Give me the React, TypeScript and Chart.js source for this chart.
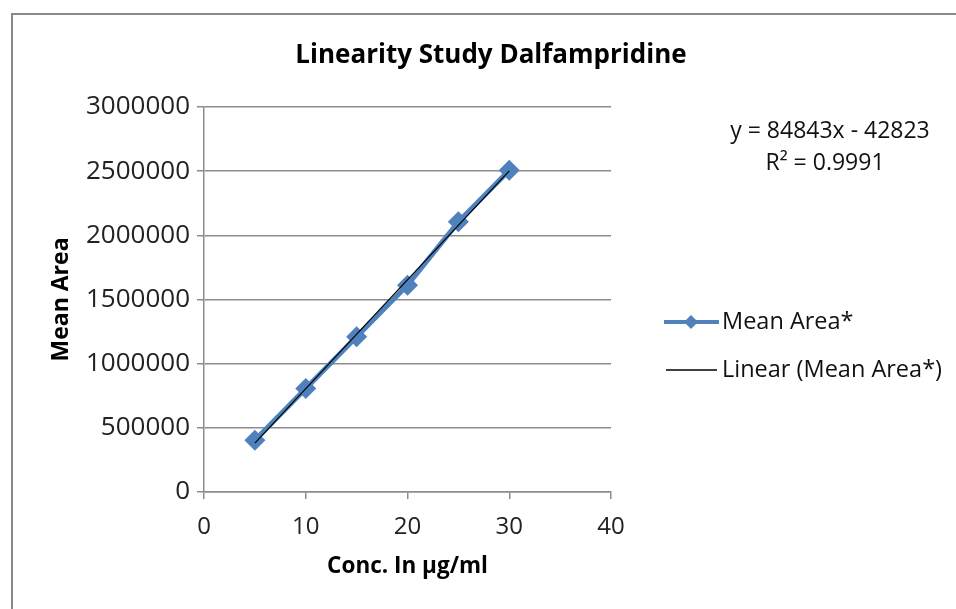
import React, { useEffect, useRef } from "react";
import { Chart, registerables } from "chart.js";

Chart.register(...registerables);

// ---- data ----
const concentrations = [5, 10, 15, 20, 25, 30];
const meanAreas = [404000, 807000, 1209000, 1612000, 2105000, 2508000];
const trendSlope = 84843;
const trendIntercept = -42823;
const rSquared = "0.9991";
const xMin = 0;
const xMax = 40;
const xStep = 10;
const yMin = 0;
const yMax = 3000000;
const yStep = 500000;
const chartTitle = "Linearity Study Dalfampridine";
const xTitle = "Conc. In µg/ml";
const yTitle = "Mean Area";
const seriesLabel = "Mean Area*";
const trendLabel = "Linear (Mean Area*)";

const FONT = "'Open Sans', 'DejaVu Sans', sans-serif";
const BLUE = "#4F81BD";
const GRID = "#8c8c8c";

const decorPlugin = {
  id: "decor",
  beforeDraw(chart: any) {
    const { ctx, width, height } = chart;
    ctx.save();
    ctx.fillStyle = "#ffffff";
    ctx.fillRect(0, 0, width, height);
    ctx.strokeStyle = "#8a8a8a";
    ctx.lineWidth = 2;
    ctx.beginPath();
    ctx.moveTo(12, height + 5);
    ctx.lineTo(12, 14);
    ctx.lineTo(width + 5, 14);
    ctx.stroke();
    ctx.restore();
  },
  afterDraw(chart: any) {
    const { ctx } = chart;
    ctx.save();
    // title
    ctx.fillStyle = "#000";
    ctx.font = `bold 26px ${FONT}`;
    ctx.textAlign = "center";
    ctx.textBaseline = "middle";
    ctx.fillText(chartTitle, 491, 56);

    // trendline equation
    ctx.font = `23px ${FONT}`;
    ctx.fillStyle = "#111";
    const sign = trendIntercept < 0 ? "-" : "+";
    ctx.fillText(`y = ${trendSlope}x ${sign} ${Math.abs(trendIntercept)}`, 830, 131);
    ctx.fillText(`R² = ${rSquared}`, 825, 163);

    // legend
    const ds = chart.data.datasets;
    const series = ds.find((d: any) => d.label === seriesLabel);
    const trend = ds.find((d: any) => d.label === trendLabel);
    ctx.textAlign = "left";
    ctx.textBaseline = "middle";
    ctx.font = `23.5px ${FONT}`;
    // series entry
    ctx.strokeStyle = series.borderColor;
    ctx.lineWidth = 4;
    ctx.beginPath();
    ctx.moveTo(664, 322);
    ctx.lineTo(719, 322);
    ctx.stroke();
    ctx.fillStyle = series.borderColor;
    ctx.beginPath();
    ctx.moveTo(691, 315);
    ctx.lineTo(698, 322);
    ctx.lineTo(691, 329);
    ctx.lineTo(684, 322);
    ctx.closePath();
    ctx.fill();
    ctx.fillStyle = "#111";
    ctx.fillText(series.label, 722, 322);
    // trend entry
    ctx.strokeStyle = trend.borderColor;
    ctx.lineWidth = 1.3;
    ctx.beginPath();
    ctx.moveTo(666, 370);
    ctx.lineTo(717, 370);
    ctx.stroke();
    ctx.fillText(trend.label, 722, 370);
    ctx.restore();
  },
};

export default function App() {
  const ref = useRef<HTMLCanvasElement>(null);
  useEffect(() => {
    if (!ref.current) return;
    const trendXs = [concentrations[0], concentrations[concentrations.length - 1]];
    const chart = new Chart(ref.current, {
      type: "scatter",
      data: {
        datasets: [
          {
            label: trendLabel,
            data: trendXs.map((x) => ({ x, y: trendSlope * x + trendIntercept })),
            showLine: true,
            borderColor: "#000000",
            backgroundColor: "#000000",
            borderWidth: 1.2,
            pointRadius: 0,
            order: 1,
          },
          {
            label: seriesLabel,
            data: concentrations.map((x, i) => ({ x, y: meanAreas[i] })),
            showLine: true,
            borderColor: BLUE,
            backgroundColor: BLUE,
            borderWidth: 5,
            pointStyle: "rectRot",
            pointRadius: 10.5,
            pointBorderWidth: 0,
            pointBackgroundColor: BLUE,
            order: 2,
          },
        ],
      },
      options: {
        animation: false,
        responsive: false,
        devicePixelRatio: 1,
        layout: { padding: { left: 0, right: 345, top: 107, bottom: 0 } },
        plugins: {
          legend: { display: false },
          tooltip: { enabled: false },
          title: { display: false },
        },
        scales: {
          x: {
            type: "linear",
            min: xMin,
            max: xMax,
            ticks: {
              stepSize: xStep,
              color: "#222",
              font: { family: FONT, size: 24 },
              padding: 14,
              maxRotation: 0,
            },
            grid: {
              drawOnChartArea: false,
              drawTicks: true,
              tickLength: 7,
              color: GRID,
              lineWidth: 1.5,
            },
            border: { display: true, color: GRID, width: 1.5 },
            title: {
              display: true,
              text: xTitle,
              color: "#000",
              font: { family: FONT, size: 22.5, weight: "bold" },
              padding: { top: 0, bottom: 29 },
            },
            afterFit(scale: any) {
              scale.height = 117;
            },
          },
          y: {
            type: "linear",
            min: yMin,
            max: yMax,
            ticks: {
              stepSize: yStep,
              color: "#222",
              font: { family: FONT, size: 26 },
              padding: 7,
              callback: (v: any) => String(v),
            },
            grid: {
              drawOnChartArea: true,
              drawTicks: true,
              tickLength: 7,
              color: GRID,
              lineWidth: 1.5,
            },
            border: { display: true, color: GRID, width: 1.5 },
            title: {
              display: true,
              text: yTitle,
              color: "#000",
              font: { family: FONT, size: 23, weight: "bold" },
              padding: { top: 48, bottom: 0 },
            },
            afterFit(scale: any) {
              scale.width = 204;
            },
          },
        },
      },
      plugins: [decorPlugin],
    });
    return () => chart.destroy();
  }, []);
  return (
    <div style={{ position: "fixed", left: 0, top: 0, width: 956, height: 609, background: "#fff" }}>
      <canvas ref={ref} width={956} height={609} style={{ display: "block" }} />
    </div>
  );
}
